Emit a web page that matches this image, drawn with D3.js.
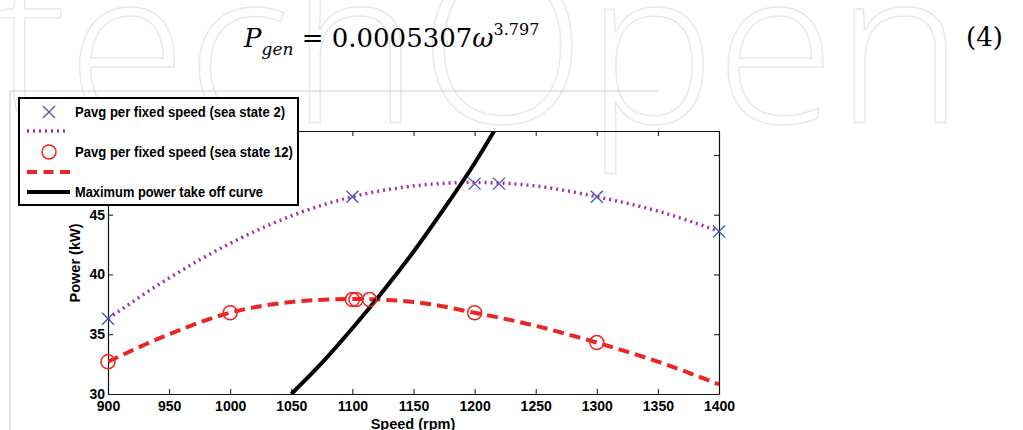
<!DOCTYPE html>
<html>
<head>
<meta charset="utf-8">
<script src="https://cdn.jsdelivr.net/npm/d3@7"></script>
<style>
  body { margin: 0; background: #fff; }
  svg { display: block; }
  .tick text { font-family: "Liberation Sans", Arial, sans-serif; font-weight: bold; font-size: 14px; fill: #000; }
</style>
</head>
<body>
<script>
'use strict';

// measured points (sea state 2, marked with x)
const speedsSS2 = [900, 1100, 1200, 1220, 1300, 1400];
const powerSS2 = [36.3, 46.5, 47.6, 47.6, 46.5, 43.6];

// measured points (sea state 12, marked with circles)
const speedsSS12 = [900, 1000, 1100, 1103, 1114, 1200, 1300];
const powerSS12 = [32.7, 36.8, 37.9, 37.9, 37.9, 36.8, 34.3];

// fitted curves, read every 50 rpm
const fitSpeeds = [900, 950, 1000, 1050, 1100, 1150, 1200, 1250, 1300, 1350, 1400];
const fitSS2 = [36.3, 39.7, 42.6, 44.9, 46.5, 47.4, 47.7, 47.4, 46.5, 45.3, 43.6];
const fitSS12 = [32.7, 35.0, 36.8, 37.7, 37.95, 37.7, 36.8, 35.7, 34.3, 32.7, 30.8];

// maximum power take off curve
const mptoSpeeds = [1050, 1075, 1100, 1125, 1150, 1175, 1200, 1216];
const mptoPower = [30.0, 32.6, 35.5, 38.6, 41.9, 45.5, 49.3, 52.0];

const xTicks = [900, 950, 1000, 1050, 1100, 1150, 1200, 1250, 1300, 1350, 1400];
const yTicks = [30, 35, 40, 45, 50];

const legendLabels = [
  "Pavg per fixed speed (sea state 2)",
  "Pavg per fixed speed (sea state 12)",
  "Maximum power take off curve"
];

const purple = "#a3369e";
const red = "#ee2424";
const blue = "#3f55b8";

const svg = d3.select("body").append("svg")
  .attr("width", 1023)
  .attr("height", 430);

// faint watermark behind everything
svg.append("text")
  .attr("x", -6)
  .attr("y", 123)
  .attr("textLength", 970)
  .attr("lengthAdjust", "spacingAndGlyphs")
  .style("font-family", "'Open Sans', sans-serif")
  .style("font-weight", 300)
  .style("font-size", "215px")
  .style("fill", "#fff")
  .style("stroke", "#e9e9e9")
  .style("stroke-width", 1.5)
  .text("techOpen");

// equation
const eq = svg.append("text")
  .attr("x", 244)
  .attr("y", 47)
  .style("font-family", "'DejaVu Serif', serif")
  .style("font-size", "26px");
eq.append("tspan").style("font-style", "italic").text("P");
eq.append("tspan").style("font-style", "italic").style("font-size", "17px").attr("dy", 8).text("gen");
eq.append("tspan").attr("dy", -8).text(" = 0.0005307");
eq.append("tspan").style("font-style", "italic").text("ω");
eq.append("tspan").style("font-size", "16px").attr("dy", -12).text("3.797");

svg.append("text")
  .attr("x", 966)
  .attr("y", 46)
  .style("font-family", "'DejaVu Serif', serif")
  .style("font-size", "26px")
  .text("(4)");

// page frame
svg.append("path")
  .attr("d", "M10,430V91H658")
  .attr("fill", "none")
  .attr("stroke", "#cfcfcf")
  .attr("stroke-width", 1.2);

// scales
const x = d3.scaleLinear().domain([900, 1400]).range([108, 719]);
const y = d3.scaleLinear().domain([30, 52]).range([394, 131]);

// axes with inward ticks, MATLAB style
svg.append("g")
  .attr("transform", "translate(0,394)")
  .call(d3.axisBottom(x).tickValues(xTicks).tickFormat(d3.format("d")).tickSizeInner(-5).tickSizeOuter(0).tickPadding(7));
svg.append("g")
  .attr("transform", "translate(0,131)")
  .call(d3.axisTop(x).tickValues(xTicks).tickFormat("").tickSizeInner(-5).tickSizeOuter(0));
// the 50 label sits under the legend box in the original, so it is left blank
svg.append("g")
  .attr("transform", "translate(108,0)")
  .call(d3.axisLeft(y).tickValues(yTicks).tickFormat((d) => d === 50 ? "" : d).tickSizeInner(-5).tickSizeOuter(0).tickPadding(3));
svg.append("g")
  .attr("transform", "translate(719,0)")
  .call(d3.axisRight(y).tickValues(yTicks).tickFormat("").tickSizeInner(-5).tickSizeOuter(0));
svg.selectAll(".domain").attr("stroke", "#111").attr("stroke-width", 1.2);
svg.selectAll(".tick line").attr("stroke", "#111");

// clip to plot area
svg.append("clipPath").attr("id", "plot")
  .append("rect").attr("x", 108).attr("y", 131).attr("width", 611).attr("height", 263);
const plot = svg.append("g").attr("clip-path", "url(#plot)");

const line = d3.line()
  .x((d) => x(d[0]))
  .y((d) => y(d[1]))
  .curve(d3.curveMonotoneX);

plot.append("path")
  .attr("d", line(d3.zip(fitSpeeds, fitSS2)))
  .attr("fill", "none")
  .attr("stroke", purple)
  .attr("stroke-width", 3.5)
  .attr("stroke-dasharray", "2,4");

plot.append("path")
  .attr("d", line(d3.zip(fitSpeeds, fitSS12)))
  .attr("fill", "none")
  .attr("stroke", red)
  .attr("stroke-width", 4)
  .attr("stroke-dasharray", "11,6");

plot.append("path")
  .attr("d", line(d3.zip(mptoSpeeds, mptoPower)))
  .attr("fill", "none")
  .attr("stroke", "#000")
  .attr("stroke-width", 4);

// markers
function cross(sel, cx, cy, s) {
  sel.append("path")
    .attr("d", `M${cx - s},${cy - s}L${cx + s},${cy + s}M${cx - s},${cy + s}L${cx + s},${cy - s}`)
    .attr("stroke", blue)
    .attr("stroke-width", 1.3)
    .attr("fill", "none");
}
d3.zip(speedsSS2, powerSS2).forEach((d) => cross(svg, x(d[0]), y(d[1]), 6));

svg.selectAll(".circ")
  .data(d3.zip(speedsSS12, powerSS12))
  .enter()
  .append("circle")
    .attr("cx", (d) => x(d[0]))
    .attr("cy", (d) => y(d[1]))
    .attr("r", 7)
    .attr("fill", "none")
    .attr("stroke", red)
    .attr("stroke-width", 1.5);

// axis labels
svg.append("text")
  .attr("x", 413)
  .attr("y", 429)
  .attr("text-anchor", "middle")
  .style("font-family", "'Liberation Sans', Arial, sans-serif")
  .style("font-weight", "bold")
  .style("font-size", "14.5px")
  .text("Speed (rpm)");

svg.append("text")
  .attr("transform", "translate(80,263)rotate(-90)")
  .attr("text-anchor", "middle")
  .style("font-family", "'Liberation Sans', Arial, sans-serif")
  .style("font-weight", "bold")
  .style("font-size", "14.5px")
  .text("Power (kW)");

// legend
const lg = svg.append("g");
lg.append("rect")
  .attr("x", 19).attr("y", 98).attr("width", 279).attr("height", 107)
  .attr("fill", "#fff").attr("stroke", "#000").attr("stroke-width", 2);
cross(lg, 49, 112, 6);
lg.append("line").attr("x1", 27).attr("x2", 67).attr("y1", 131).attr("y2", 131)
  .attr("stroke", purple).attr("stroke-width", 3.5).attr("stroke-dasharray", "2,4");
lg.append("circle").attr("cx", 49).attr("cy", 152).attr("r", 7)
  .attr("fill", "none").attr("stroke", red).attr("stroke-width", 1.5);
lg.append("line").attr("x1", 27).attr("x2", 70).attr("y1", 172).attr("y2", 172)
  .attr("stroke", red).attr("stroke-width", 4).attr("stroke-dasharray", "10,6.5");
lg.append("line").attr("x1", 27).attr("x2", 70).attr("y1", 192).attr("y2", 192)
  .attr("stroke", "#000").attr("stroke-width", 4);

const legendY = [117, 157, 197];
const legendW = [210, 218, 188];
legendLabels.forEach((t, i) => {
  lg.append("text")
    .attr("x", 75)
    .attr("y", legendY[i])
    .attr("textLength", legendW[i])
    .attr("lengthAdjust", "spacingAndGlyphs")
    .style("font-family", "'Liberation Sans', Arial, sans-serif")
    .style("font-weight", "bold")
    .style("font-size", "14px")
    .text(t);
});
</script>
</body>
</html>
